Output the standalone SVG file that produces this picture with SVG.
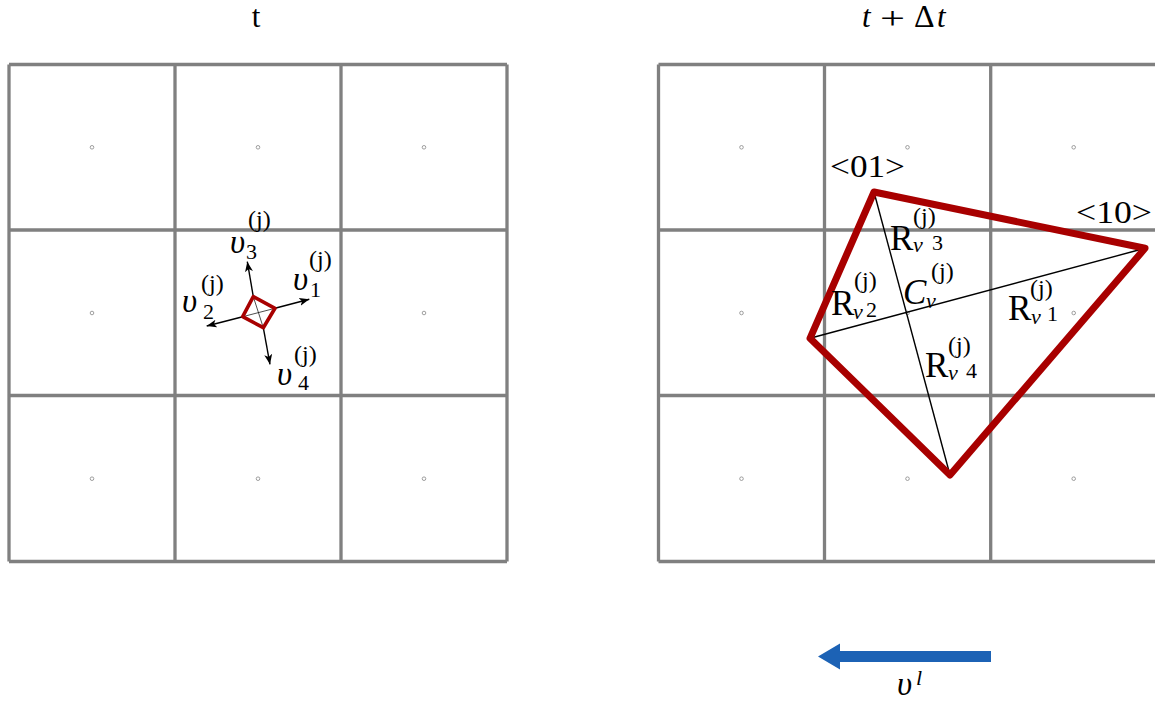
<svg xmlns="http://www.w3.org/2000/svg" width="1155" height="702" viewBox="0 0 1155 702">
<defs>
<style>
.grid{stroke:#808080;stroke-width:3.3;fill:none}
.dot{fill:#fff;stroke:#888;stroke-width:0.8}
.poly{fill:none;stroke:#a80000;stroke-linejoin:round;stroke-linecap:round}
.thin{stroke:#000;stroke-width:1.4;fill:none}
.rm{font-family:"Liberation Serif","Times New Roman",serif;fill:#000}
.it{font-family:"Liberation Serif","Times New Roman",serif;font-style:italic;fill:#000}
.big{font-size:35px}
.ups{font-size:33px}
.sm{font-size:22px}
.sp{font-size:24px}
.ttl{font-size:31px}
</style>
<marker id="ah" markerUnits="userSpaceOnUse" markerWidth="11" markerHeight="9" refX="10" refY="4.5" orient="auto">
<path d="M0,0.5 L10,4.5 L0,8.5 L2.5,4.5 Z" fill="#000"/>
</marker>
</defs>
<rect width="1155" height="702" fill="#fff"/>

<g id="grid-left">
<path class="grid" d="M9,64.5H507M9,230H507M9,395.5H507M9,561.5H507M9,64.5V561.5M175,64.5V561.5M341,64.5V561.5M507,64.5V561.5"/>
<circle class="dot" cx="92" cy="147.3" r="1.8"/><circle class="dot" cx="258" cy="147.3" r="1.8"/><circle class="dot" cx="424" cy="147.3" r="1.8"/>
<circle class="dot" cx="92" cy="313" r="1.8"/><circle class="dot" cx="424" cy="313" r="1.8"/>
<circle class="dot" cx="92" cy="478.7" r="1.8"/><circle class="dot" cx="258" cy="478.7" r="1.8"/><circle class="dot" cx="424" cy="478.7" r="1.8"/>
</g>

<g id="grid-right">
<path class="grid" d="M658.5,64.5H1160M658.5,230H1160M658.5,395.5H1160M658.5,561.5H1160M658.5,64.5V561.5M824.5,64.5V561.5M990.7,64.5V561.5M1156.8,64.5V561.5"/>
<circle class="dot" cx="741.5" cy="147.3" r="1.8"/><circle class="dot" cx="907.5" cy="147.3" r="1.8"/><circle class="dot" cx="1073.7" cy="147.3" r="1.8"/>
<circle class="dot" cx="741.5" cy="313" r="1.8"/><circle class="dot" cx="907.5" cy="313" r="1.8"/><circle class="dot" cx="1073.7" cy="313" r="1.8"/>
<circle class="dot" cx="741.5" cy="478.7" r="1.8"/><circle class="dot" cx="907.5" cy="478.7" r="1.8"/><circle class="dot" cx="1073.7" cy="478.7" r="1.8"/>
</g>

<g id="titles">
<text class="rm ttl" x="256" y="27" text-anchor="middle">t</text>
<text class="it ttl" x="862" y="27">t</text>
<text class="rm" x="880" y="29" font-size="32" textLength="25" lengthAdjust="spacingAndGlyphs">+</text>
<text class="rm" x="914" y="27" font-size="32">Δ</text>
<text class="it ttl" x="937" y="27">t</text>
</g>

<g id="connectors">
<line class="thin" x1="253.3" y1="296.7" x2="247.3" y2="261.7" marker-end="url(#ah)"/>
<line class="thin" x1="275" y1="308.3" x2="309.3" y2="299.3" marker-end="url(#ah)"/>
<line class="thin" x1="242.7" y1="316.7" x2="206.7" y2="326" marker-end="url(#ah)"/>
<line class="thin" x1="263.3" y1="327.7" x2="270" y2="364.3" marker-end="url(#ah)"/>
<path id="vl-arrow" d="M991,651 L840,651 L840,643.5 L818,656.5 L840,669.5 L840,662 L991,662 Z" fill="#1c62b5"/>
</g>

<g id="node-small">
<line x1="253.3" y1="296.7" x2="263.3" y2="327.7" stroke="#000" stroke-width="0.7"/>
<line x1="242.7" y1="316.7" x2="275" y2="308.3" stroke="#000" stroke-width="0.7"/>
<polygon class="poly" stroke-width="3.6" points="253.3,296.7 275,308.3 263.3,327.7 242.7,316.7"/>
</g>

<g id="node-large">
<line class="thin" x1="874" y1="192" x2="950" y2="475"/>
<line class="thin" x1="810" y1="338.3" x2="1145" y2="248.3"/>
<polygon class="poly" stroke-width="7" points="874,192 1145,248.3 950,475 810,338.3"/>
</g>

<g id="labels-left">
<text class="it ups" x="230" y="253">υ</text><text class="rm sm" x="246" y="259">3</text><text class="rm sp" x="248" y="227">(j)</text>
<text class="it ups" x="293" y="290">υ</text><text class="rm sm" x="310" y="297">1</text><text class="rm sp" x="309" y="267">(j)</text>
<text class="it ups" x="182" y="312">υ</text><text class="rm sm" x="203" y="319">2</text><text class="rm sp" x="201" y="291">(j)</text>
<text class="it ups" x="277" y="385">υ</text><text class="rm sm" x="298" y="390">4</text><text class="rm sp" x="294" y="362">(j)</text>
</g>

<g id="labels-right">
<text class="rm" x="830" y="177" font-size="31" textLength="75" lengthAdjust="spacingAndGlyphs">&lt;01&gt;</text>
<text class="rm" x="1076" y="223" font-size="31" textLength="76" lengthAdjust="spacingAndGlyphs">&lt;10&gt;</text>
<text class="rm big" x="890" y="250">R</text><text class="it sm" x="913" y="252">ν</text><text class="rm sm" x="932" y="250">3</text><text class="rm sp" x="913" y="224">(j)</text>
<text class="it big" x="903" y="304">C</text><text class="it sm" x="926" y="308">ν</text><text class="rm sp" x="931" y="279">(j)</text>
<text class="rm big" x="831" y="315">R</text><text class="it sm" x="853" y="319">ν</text><text class="rm sm" x="866" y="317">2</text><text class="rm sp" x="854" y="288">(j)</text>
<text class="rm big" x="1008" y="320">R</text><text class="it sm" x="1031" y="324">ν</text><text class="rm sm" x="1047" y="321">1</text><text class="rm sp" x="1030" y="296">(j)</text>
<text class="rm big" x="925" y="377">R</text><text class="it sm" x="948" y="380">ν</text><text class="rm sm" x="966" y="378">4</text><text class="rm sp" x="948" y="353">(j)</text>
<text class="it ups" x="897" y="695">υ</text><text class="it sm" x="916" y="685">l</text>
</g>
</svg>
